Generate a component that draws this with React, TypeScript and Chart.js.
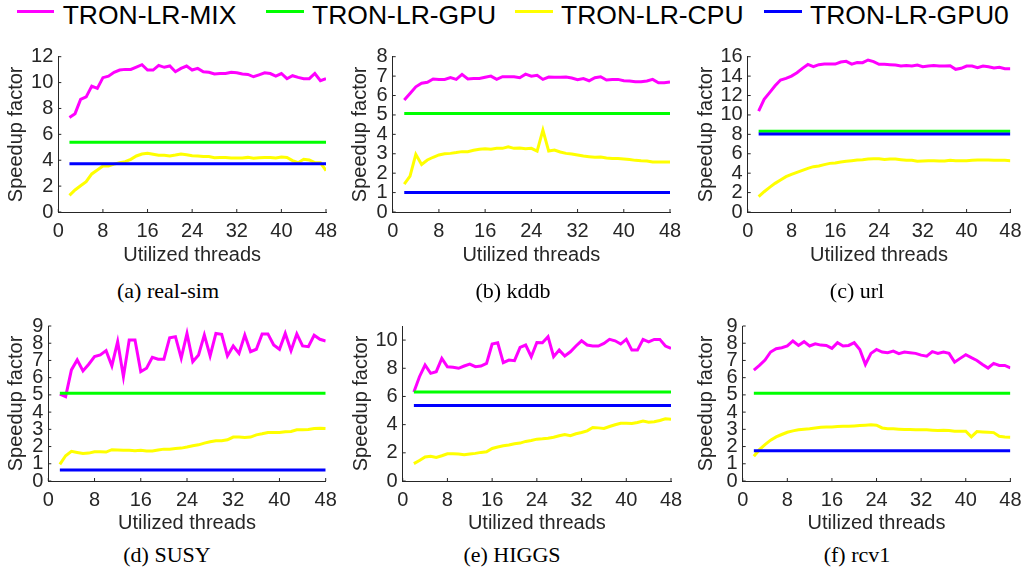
import React, { useEffect, useRef } from 'react';
import { Chart, registerables } from 'chart.js';

Chart.register(...registerables);

// ---------- data ----------
const THREADS = [2, 3, 4, 5, 6, 7, 8, 9, 10, 11, 12, 13, 14, 15, 16, 17, 18, 19, 20, 21, 22, 23, 24, 25,
  26, 27, 28, 29, 30, 31, 32, 33, 34, 35, 36, 37, 38, 39, 40, 41, 42, 43, 44, 45, 46, 47, 48];
const X_TICKS = [0, 8, 16, 24, 32, 40, 48];

const SERIES_NAMES = ['TRON-LR-MIX', 'TRON-LR-GPU', 'TRON-LR-CPU', 'TRON-LR-GPU0'];
const SERIES_COLORS = ['#ff00ff', '#00ff00', '#ffff00', '#0000ff'];

const CAPTIONS = ['(a) real-sim', '(b) kddb', '(c) url', '(d) SUSY', '(e) HIGGS', '(f) rcv1'];

const realSimMix = [7.31, 7.6, 8.7, 8.9, 9.73, 9.55, 10.38, 10.5, 10.8, 10.97, 11.02, 11.02, 11.2, 11.38, 10.97, 10.97, 11.33, 11.18, 11.28, 10.84, 11.1, 11.28, 10.97, 11.1, 10.84, 10.8, 10.66, 10.7, 10.7, 10.8, 10.76, 10.66, 10.63, 10.45, 10.6, 10.76, 10.7, 10.5, 10.7, 10.3, 10.53, 10.4, 10.3, 10.3, 10.7, 10.15, 10.3];
const realSimCpu = [1.29, 1.7, 2.03, 2.34, 2.94, 3.24, 3.55, 3.55, 3.7, 3.81, 3.89, 4.07, 4.33, 4.48, 4.53, 4.46, 4.38, 4.38, 4.33, 4.4, 4.48, 4.43, 4.35, 4.33, 4.28, 4.28, 4.2, 4.22, 4.22, 4.17, 4.17, 4.17, 4.22, 4.15, 4.2, 4.22, 4.22, 4.17, 4.25, 4.22, 3.97, 3.81, 4.07, 4.02, 3.81, 3.81, 3.19];

const kddbMix = [5.77, 6.11, 6.45, 6.63, 6.68, 6.85, 6.83, 6.83, 6.92, 6.83, 7.09, 6.85, 6.88, 6.88, 6.94, 7.0, 6.83, 6.97, 6.97, 6.97, 6.92, 7.1, 7.0, 7.04, 6.83, 6.95, 6.94, 6.94, 6.95, 6.9, 6.82, 6.87, 6.76, 6.92, 6.97, 6.8, 6.83, 6.83, 6.76, 6.75, 6.71, 6.71, 6.75, 6.83, 6.66, 6.66, 6.7];
const kddbCpu = [1.44, 1.85, 2.97, 2.45, 2.68, 2.82, 2.94, 3.0, 3.02, 3.06, 3.11, 3.11, 3.18, 3.23, 3.26, 3.23, 3.28, 3.28, 3.36, 3.28, 3.3, 3.26, 3.28, 3.14, 4.22, 3.14, 3.19, 3.09, 3.02, 2.99, 2.94, 2.88, 2.85, 2.82, 2.83, 2.78, 2.76, 2.75, 2.73, 2.7, 2.66, 2.64, 2.63, 2.58, 2.58, 2.58, 2.58];

const urlMix = [10.4, 11.6, 12.3, 13.0, 13.6, 13.77, 14.0, 14.35, 14.8, 15.2, 14.97, 15.18, 15.24, 15.24, 15.24, 15.45, 15.52, 15.24, 15.4, 15.38, 15.66, 15.49, 15.21, 15.21, 15.18, 15.14, 15.04, 15.1, 15.04, 15.14, 14.97, 15.04, 15.1, 15.04, 15.04, 15.07, 14.7, 14.8, 15.04, 15.04, 14.87, 15.04, 14.97, 14.83, 14.9, 14.76, 14.76];
const urlCpu = [1.58, 2.09, 2.54, 2.95, 3.3, 3.64, 3.88, 4.09, 4.29, 4.5, 4.67, 4.74, 4.88, 5.01, 5.05, 5.15, 5.22, 5.29, 5.36, 5.39, 5.46, 5.49, 5.49, 5.42, 5.46, 5.46, 5.39, 5.32, 5.32, 5.22, 5.25, 5.29, 5.29, 5.25, 5.25, 5.32, 5.29, 5.29, 5.29, 5.32, 5.36, 5.36, 5.36, 5.32, 5.32, 5.32, 5.29];

const susyMix = [5.04, 4.9, 6.45, 7.03, 6.39, 6.78, 7.22, 7.32, 7.57, 6.68, 8.09, 6.06, 8.19, 8.19, 6.35, 6.55, 7.18, 7.07, 7.07, 8.32, 8.38, 7.13, 8.57, 6.93, 7.32, 8.48, 7.26, 8.57, 8.52, 7.26, 7.84, 7.41, 8.48, 7.51, 7.65, 8.54, 8.54, 7.9, 7.65, 8.57, 7.57, 8.54, 7.84, 7.8, 8.46, 8.23, 8.13];
const susyCpu = [0.97, 1.47, 1.72, 1.66, 1.6, 1.62, 1.7, 1.7, 1.68, 1.82, 1.8, 1.78, 1.78, 1.76, 1.78, 1.74, 1.74, 1.8, 1.85, 1.85, 1.89, 1.91, 1.97, 2.05, 2.1, 2.2, 2.28, 2.34, 2.34, 2.39, 2.55, 2.55, 2.53, 2.55, 2.68, 2.74, 2.82, 2.82, 2.82, 2.86, 2.88, 2.97, 2.97, 2.99, 3.05, 3.07, 3.05];

const higgsMix = [6.32, 7.4, 8.23, 7.64, 7.76, 8.7, 8.11, 8.07, 8.0, 8.16, 8.3, 8.11, 8.16, 8.35, 9.72, 9.81, 8.4, 8.58, 8.54, 9.48, 9.65, 8.82, 9.83, 9.81, 10.24, 8.82, 9.29, 8.87, 9.17, 9.58, 9.95, 9.65, 9.58, 9.58, 9.76, 10.05, 9.95, 9.72, 10.05, 9.29, 9.29, 10.05, 9.88, 10.05, 10.05, 9.58, 9.41];
const higgsCpu = [1.23, 1.46, 1.7, 1.75, 1.67, 1.79, 1.93, 1.93, 1.91, 1.86, 1.91, 1.96, 2.03, 2.08, 2.31, 2.41, 2.5, 2.55, 2.64, 2.69, 2.81, 2.88, 2.97, 3.0, 3.04, 3.11, 3.21, 3.3, 3.21, 3.35, 3.44, 3.56, 3.8, 3.77, 3.73, 3.87, 3.99, 4.1, 4.1, 4.08, 4.15, 4.25, 4.17, 4.2, 4.29, 4.41, 4.39];

const rcv1Mix = [6.44, 6.71, 7.02, 7.49, 7.68, 7.74, 7.84, 8.13, 7.87, 8.09, 7.84, 7.97, 7.89, 7.87, 7.7, 8.03, 7.84, 7.87, 8.03, 7.64, 6.77, 7.41, 7.64, 7.49, 7.45, 7.54, 7.39, 7.49, 7.45, 7.41, 7.31, 7.25, 7.51, 7.41, 7.49, 7.41, 6.9, 7.12, 7.33, 7.16, 7.0, 6.77, 6.56, 6.83, 6.71, 6.71, 6.57];
const rcv1Cpu = [1.44, 1.82, 2.11, 2.37, 2.56, 2.7, 2.83, 2.91, 2.97, 3.01, 3.04, 3.08, 3.12, 3.14, 3.14, 3.16, 3.18, 3.18, 3.2, 3.22, 3.24, 3.26, 3.24, 3.08, 3.04, 3.03, 3.01, 2.99, 2.99, 2.97, 2.97, 2.97, 2.95, 2.93, 2.95, 2.93, 2.89, 2.89, 2.89, 2.56, 2.87, 2.85, 2.83, 2.81, 2.6, 2.56, 2.54];

const MIX_SERIES = [realSimMix, kddbMix, urlMix, susyMix, higgsMix, rcv1Mix];
const CPU_SERIES = [realSimCpu, kddbCpu, urlCpu, susyCpu, higgsCpu, rcv1Cpu];
const GPU_LEVELS = [5.38, 5.08, 8.31, 5.1, 6.32, 5.1];
const GPU0_LEVELS = [3.73, 1.0, 8.03, 0.64, 5.35, 1.76];

const Y_MAX = [12, 8, 16, 9, 11, 9];
const Y_TICKS = [
  [0, 2, 4, 6, 8, 10, 12],
  [0, 1, 2, 3, 4, 5, 6, 7, 8],
  [0, 2, 4, 6, 8, 10, 12, 14, 16],
  [0, 1, 2, 3, 4, 5, 6, 7, 8, 9],
  [0, 2, 4, 6, 8, 10],
  [0, 1, 2, 3, 4, 5, 6, 7, 8, 9],
];

// ---------- layout (pixels) ----------
type Geo = { L: number; T: number; W: number; plotLeft: number; plotRight: number; plotTop: number; plotBottom: number; xh: number };
const GEO: Geo[] = [
  { L: 0, T: 38, W: 345, plotLeft: 58.3, plotRight: 326, plotTop: 56.7, plotBottom: 212, xh: 59 },
  { L: 344, T: 38, W: 345, plotLeft: 392.7, plotRight: 670, plotTop: 56.7, plotBottom: 212, xh: 59 },
  { L: 690, T: 38, W: 339, plotLeft: 747.7, plotRight: 1015, plotTop: 56.7, plotBottom: 212, xh: 59 },
  { L: 0, T: 306, W: 345, plotLeft: 48.3, plotRight: 325.7, plotTop: 326, plotBottom: 481.3, xh: 58 },
  { L: 345, T: 306, W: 345, plotLeft: 402.7, plotRight: 671, plotTop: 326, plotBottom: 481.3, xh: 58 },
  { L: 690, T: 306, W: 339, plotLeft: 742.7, plotRight: 1015, plotTop: 326, plotBottom: 481.3, xh: 58 },
];
const CAPTION_X = [168, 513, 857, 167, 512, 857];
const CAPTION_TOP = [277.6, 277.6, 277.6, 542, 542, 542];
const LEGEND_X = [16.7, 266, 515, 764];

const AXIS_COLOR = '#262626';

const innerTicks = {
  id: 'innerTicks',
  afterDraw(chart: any) {
    const { ctx, chartArea } = chart;
    const xs = chart.scales.x;
    const ys = chart.scales.y;
    ctx.save();
    ctx.strokeStyle = AXIS_COLOR;
    ctx.lineWidth = 1;
    ctx.beginPath();
    xs.ticks.forEach((t: any) => {
      const px = xs.getPixelForValue(t.value);
      ctx.moveTo(px, chartArea.bottom);
      ctx.lineTo(px, chartArea.bottom - 3);
    });
    ys.ticks.forEach((t: any) => {
      const py = ys.getPixelForValue(t.value);
      ctx.moveTo(chartArea.left, py);
      ctx.lineTo(chartArea.left + 3, py);
    });
    ctx.stroke();
    ctx.restore();
  },
};

function Panel({ idx }: { idx: number }) {
  const ref = useRef<HTMLCanvasElement | null>(null);
  const g = GEO[idx];
  const H = Math.round(g.plotBottom + g.xh - g.T);
  useEffect(() => {
    if (!ref.current) return;
    const first = THREADS[0];
    const last = THREADS[THREADS.length - 1];
    const mix = MIX_SERIES[idx].map((v, i) => ({ x: THREADS[i], y: v }));
    const cpu = CPU_SERIES[idx].map((v, i) => ({ x: THREADS[i], y: v }));
    const gpu = [{ x: first, y: GPU_LEVELS[idx] }, { x: last, y: GPU_LEVELS[idx] }];
    const gpu0 = [{ x: first, y: GPU0_LEVELS[idx] }, { x: last, y: GPU0_LEVELS[idx] }];
    const mk = (label: string, data: any[], color: string, order: number) => ({
      label,
      data,
      borderColor: color,
      backgroundColor: color,
      borderWidth: 3,
      pointRadius: 0,
      tension: 0,
      fill: false,
      order,
    });
    const chart = new Chart(ref.current, {
      type: 'line',
      data: {
        datasets: [
          mk(SERIES_NAMES[0], mix, SERIES_COLORS[0], 4),
          mk(SERIES_NAMES[1], gpu, SERIES_COLORS[1], 3),
          mk(SERIES_NAMES[2], cpu, SERIES_COLORS[2], 2),
          mk(SERIES_NAMES[3], gpu0, SERIES_COLORS[3], 1),
        ],
      },
      options: {
        animation: false,
        responsive: false,
        devicePixelRatio: 1,
        layout: {
          padding: { left: 0, top: g.plotTop - g.T, right: g.L + g.W - g.plotRight, bottom: 0 },
        },
        plugins: { legend: { display: false }, tooltip: { enabled: false } },
        scales: {
          x: {
            type: 'linear',
            min: 0,
            max: 48,
            afterBuildTicks: (s: any) => { s.ticks = X_TICKS.map((v) => ({ value: v })); },
            afterFit: (s: any) => { s.height = g.xh; },
            grid: { display: false, drawTicks: false },
            border: { display: true, color: AXIS_COLOR, width: 1 },
            ticks: { color: AXIS_COLOR, font: { size: 20, family: 'Liberation Sans, Arial, sans-serif' }, padding: 7.5, maxRotation: 0, autoSkip: false },
            title: { display: true, text: 'Utilized threads', color: AXIS_COLOR, font: { size: 20, family: 'Liberation Sans, Arial, sans-serif' }, padding: { top: 4, bottom: 4 } },
          },
          y: {
            type: 'linear',
            min: 0,
            max: Y_MAX[idx],
            afterBuildTicks: (s: any) => { s.ticks = Y_TICKS[idx].map((v) => ({ value: v })); },
            afterFit: (s: any) => { s.width = g.plotLeft - g.L; },
            grid: { display: false, drawTicks: false },
            border: { display: true, color: AXIS_COLOR, width: 1 },
            ticks: { color: AXIS_COLOR, font: { size: 20, family: 'Liberation Sans, Arial, sans-serif' }, padding: 5, autoSkip: false },
            title: { display: true, text: 'Speedup factor', color: AXIS_COLOR, font: { size: 20, family: 'Liberation Sans, Arial, sans-serif' }, padding: { top: 4, bottom: 4 } },
          },
        },
      } as any,
      plugins: [innerTicks],
    });
    return () => chart.destroy();
  }, [idx]);
  return (
    <canvas
      ref={ref}
      width={g.W}
      height={H}
      style={{ position: 'absolute', left: g.L, top: g.T, width: g.W, height: H }}
    />
  );
}

export default function App() {
  return (
    <div style={{ position: 'absolute', left: 0, top: 0, width: 1029, height: 573, background: '#fff', overflow: 'hidden' }}>
      {SERIES_NAMES.map((name, i) => (
        <React.Fragment key={name}>
          <div style={{ position: 'absolute', left: LEGEND_X[i], top: 9.5, width: 37.5, height: 3, background: SERIES_COLORS[i] }} />
          <div style={{ position: 'absolute', left: LEGEND_X[i] + 46, top: 0, fontFamily: 'Liberation Sans, Arial, sans-serif', fontSize: 26.5, lineHeight: '30px', color: '#000', whiteSpace: 'nowrap' }}>
            {name}
          </div>
        </React.Fragment>
      ))}
      {GEO.map((_, i) => (
        <Panel key={i} idx={i} />
      ))}
      {CAPTIONS.map((c, i) => (
        <div key={c} style={{ position: 'absolute', left: CAPTION_X[i] - 150, top: CAPTION_TOP[i], width: 300, textAlign: 'center', fontFamily: 'Liberation Serif, Times New Roman, serif', fontSize: 22, lineHeight: '26px', color: '#000', whiteSpace: 'nowrap' }}>
          {c}
        </div>
      ))}
    </div>
  );
}
